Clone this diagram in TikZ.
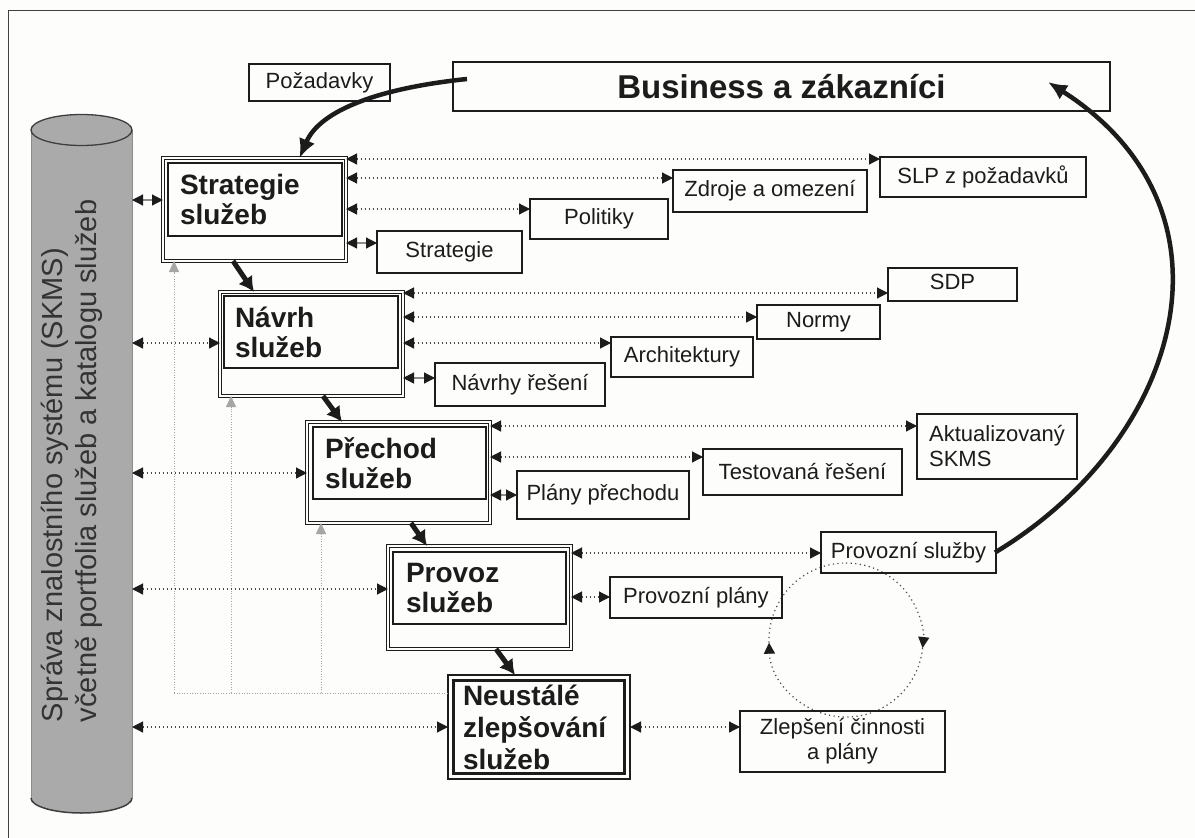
\documentclass[tikz,border=0pt]{standalone}
\usepackage{fontspec}
\setmainfont{Liberation Sans}
\usetikzlibrary{arrows.meta,calc}
\definecolor{paper}{HTML}{FDFDFB}
\definecolor{cylgray}{HTML}{A9AAA9}
\definecolor{ink}{HTML}{1C1C1C}
\definecolor{dotc}{HTML}{4A4A4A}
\definecolor{guide}{HTML}{A6A6A6}

\begin{document}
\begin{tikzpicture}[x=1pt,y=-1pt,
  every node/.style={inner sep=0pt, outer sep=0pt},
  txt/.style={font=\fontsize{22}{25}\selectfont, text=ink},
  box/.style={draw=ink, line width=1.3pt, txt, anchor=north west, align=center},
  phase/.style={draw=ink, double=paper, double distance=1.5pt, line width=0.8pt,
    fill=paper, anchor=north west, minimum width=183pt, minimum height=103pt},
  phasein/.style={draw=ink, line width=2pt, anchor=north west,
    minimum width=174pt, minimum height=73pt},
  title/.style={font=\bfseries\fontsize{28}{30}\selectfont, align=left,
    anchor=west, text=ink},
  tipb/.tip={Triangle[length=11pt,width=11pt,color=ink]},
  dotarrow/.style={draw=dotc, line width=1.2pt, dash pattern=on 1.2pt off 2.8pt,
    tipb-tipb},
  shortarrow/.style={draw=black!45, line width=1.2pt, tipb-tipb},
  guide/.style={draw=guide, line width=1pt, dash pattern=on 1pt off 1.6pt},
  guidearrow/.style={guide, -{Triangle[length=11pt,width=10pt,color=guide]}},
  phasearrow/.style={draw=ink, line width=5pt,
    -{Latex[length=15pt,width=17pt]}},
  bigarrow/.style={draw=ink, line width=4.5pt,
    -{Latex[length=19pt,width=17pt]}},
  circdot/.style={draw=dotc, line width=1.2pt, dash pattern=on 1.2pt off 3.4pt},
]
\useasboundingbox (0,0) rectangle (1195,838);
\fill[paper] (0,0) rectangle (1195,838);

% open frame: top and left edges only
\draw[line width=1.3pt, draw=black!75] (1195,10.5) -- (8.5,10.5) -- (8.5,838);

% knowledge base cylinder
\node[fill=cylgray, minimum width=101pt, minimum height=668pt, anchor=north west]
  (skms) at (31,130) {};
\fill[cylgray] (skms.south west) arc[start angle=180, end angle=0,
  x radius=50.5, y radius=15];
\draw[black!45, line width=0.8pt] (skms.north west) -- (skms.south west)
  (skms.north east) -- (skms.south east);
\draw[ink!85, line width=1.5pt] (skms.south west) arc[start angle=180, end angle=0,
  x radius=50.5, y radius=15];
\draw[fill=cylgray, draw=ink!85, line width=1.3pt] (skms.north)
  ellipse[x radius=50.5, y radius=15.5];
\node[rotate=90, anchor=west, align=left, font=\fontsize{29}{34}\selectfont,
  text=black!80] (skms-t) at (72,722)
  {Správa znalostního systému (SKMS)\\včetně portfolia služeb a katalogu služeb};

% improvement cycle
\coordinate (cyc) at (846,640);
\draw[circdot, -{Triangle[length=11pt,width=11pt,color=ink]}]
  (cyc) ++(-90:77) arc[start angle=-90, end angle=6, radius=77];
\draw[circdot, -{Triangle[length=11pt,width=11pt,color=ink]}]
  (cyc) ++(6:77) arc[start angle=6, end angle=178, radius=77];
\draw[circdot] (cyc) ++(178:77) arc[start angle=178, end angle=270, radius=77];

% lifecycle phases
\node[phase] (strat) at (163,158) {};
\node[phasein] (strat-in) at (168,163) {};
\node[title] (strat-t) at ([xshift=12pt]strat-in.west) {Strategie\\služeb};

\node[phase, minimum height=104pt] (navrh) at (220,292) {};
\node[phasein, minimum height=72pt] (navrh-in) at (224,296) {};
\node[title] (navrh-t) at ([xshift=11pt]navrh-in.west) {Návrh\\služeb};

\node[phase, minimum height=101pt] (prech) at (307,422) {};
\node[phasein, minimum width=173pt, minimum height=72pt] (prech-in) at (313,427) {};
\node[title] (prech-t) at ([xshift=12pt]prech-in.west) {Přechod\\služeb};

\node[phase] (prov) at (388,546) {};
\node[phasein, minimum width=173pt, minimum height=72pt] (prov-in) at (393,552) {};
\node[title] (prov-t) at ([xshift=13pt]prov-in.west) {Provoz\\služeb};

\node[draw=ink, line width=1.2pt, fill=paper, anchor=north west,
  minimum width=182pt, minimum height=104pt] (neu) at (448,675) {};
\draw[ink, line width=2.2pt] ([shift={(5.5,5.5)}]neu.north west)
  rectangle ([shift={(-5.5,-5.5)}]neu.south east);
\node[title, font=\bfseries\fontsize{28}{32}\selectfont] (neu-t)
  at ([xshift=15pt]neu.west) {Neustálé\\zlepšování\\služeb};

% inputs and outputs
\node[box, minimum width=141pt, minimum height=37pt] (req) at (249,64) {Požadavky};
\node[box, minimum width=657pt, minimum height=49pt,
  font=\bfseries\fontsize{33}{36}\selectfont] (bus) at (453,62) {Business a zákazníci};
\node[box, minimum width=206pt, minimum height=40pt] (slp) at (880,157) {SLP z požadavků};
\node[box, minimum width=194pt, minimum height=42pt] (zdr) at (673,170) {Zdroje a omezení};
\node[box, minimum width=138pt, minimum height=40pt] (pol) at (530,199) {Politiky};
\node[box, minimum width=145pt, minimum height=42pt] (strsm) at (377,231) {Strategie};
\node[box, minimum width=129pt, minimum height=33pt, text depth=5pt] (sdp) at (888,268) {SDP};
\node[box, minimum width=123pt, minimum height=34pt] (norm) at (757,305) {Normy};
\node[box, minimum width=142pt, minimum height=40pt] (arch) at (611,337) {Architektury};
\node[box, minimum width=170pt, minimum height=43pt] (navrs) at (435,363) {Návrhy řešení};
\node[box, minimum width=160pt, minimum height=65pt, align=left] (akt) at (917,414)
  {Aktualizovaný\\SKMS};
\node[box, minimum width=199pt, minimum height=46pt] (test) at (703,449) {Testovaná řešení};
\node[box, minimum width=172pt, minimum height=48pt] (plany) at (517,471) {Plány přechodu};
\node[box, minimum width=175pt, minimum height=41pt] (psl) at (821,532) {Provozní služby};
\node[box, minimum width=172pt, minimum height=41pt] (ppl) at (610,577) {Provozní plány};
\node[box, minimum width=205pt, minimum height=61pt] (zlep) at (740,711)
  {Zlepšení činnosti\\a plány};

% feedback guides to the improvement phase
\coordinate (g0) at (174,693);
\coordinate (g1) at (231,693);
\coordinate (g2) at (321,693);
\draw[guide] (neu.west |- g0) -- (g0);
\draw[guidearrow] (g0) -- (g0 |- strat.south);
\draw[guidearrow] (g1) -- (g1 |- navrh.south);
\draw[guidearrow] (g2) -- (g2 |- prech.south);

% links to the knowledge base
\draw[shortarrow] (skms.east |- 0,200) -- (strat.west |- 0,200);
\draw[dotarrow] (skms.east |- 0,343) -- (navrh.west |- 0,343);
\draw[dotarrow] (skms.east |- 0,473) -- (prech.west |- 0,473);
\draw[dotarrow] (skms.east |- 0,589) -- (prov.west |- 0,589);
\draw[dotarrow] (skms.east |- 0,727) -- (neu.west |- 0,727);

% phase outputs
\draw[dotarrow] (strat.east |- 0,159) -- (slp.west |- 0,159);
\draw[dotarrow] (strat.east |- 0,178) -- (zdr.west |- 0,178);
\draw[dotarrow] (strat.east |- 0,209) -- (pol.west |- 0,209);
\draw[shortarrow] (strat.east |- 0,243) -- (strsm.west |- 0,243);

\draw[dotarrow] (navrh.east |- 0,293) -- (sdp.west |- 0,293);
\draw[dotarrow] (navrh.east |- 0,317) -- (norm.west |- 0,317);
\draw[dotarrow] (navrh.east |- 0,343) -- (arch.west |- 0,343);
\draw[shortarrow] (navrh.east |- 0,378) -- (navrs.west |- 0,378);

\draw[dotarrow] (prech.east |- 0,426) -- (akt.west |- 0,426);
\draw[dotarrow] (prech.east |- 0,457) -- (test.west |- 0,457);
\draw[shortarrow] (prech.east |- 0,495) -- (plany.west |- 0,495);

\draw[dotarrow] (prov.east |- 0,553) -- (psl.west |- 0,553);
\draw[dotarrow] (prov.east |- 0,597) -- (ppl.west |- 0,597);

\draw[dotarrow] (neu.east |- 0,727) -- (zlep.west |- 0,727);

% flow between phases
\draw[phasearrow] (strat.south -| 233,0) -- (navrh.north -| 254,0);
\draw[phasearrow] (navrh.south -| 323,0) -- (prech.north -| 342,0);
\draw[phasearrow] (prech.south -| 411,0) -- (prov.north -| 427,0);
\draw[phasearrow] (prov.south -| 496,0) -- (neu.north -| 515,0);

% business demand and delivered services
\draw[bigarrow] ([shift={(14,17)}]bus.north west) .. controls (380,88) and (320,110)
  .. ([xshift=45pt]strat.north);
\draw[bigarrow] ([xshift=-1pt]psl.east) .. controls (1182,440) and (1248,210)
  .. ([shift={(-62,20)}]bus.north east);
\end{tikzpicture}
\end{document}
